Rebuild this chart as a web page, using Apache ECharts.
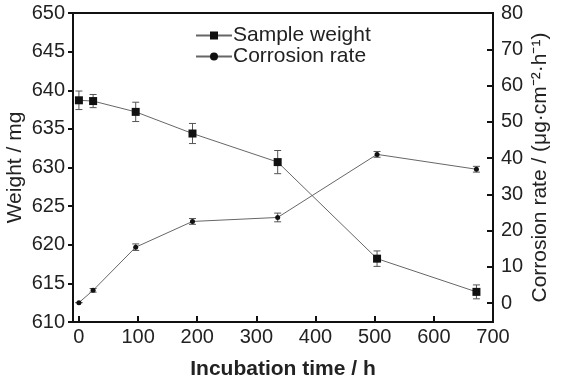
<!DOCTYPE html>
<html><head><meta charset="utf-8">
<script src="https://cdn.jsdelivr.net/npm/echarts@6/dist/echarts.min.js"></script>
<style>html,body{margin:0;padding:0;background:#fff}#c{width:563px;height:381px}</style>
</head><body><div id="c"></div>
<script>
const times = [0, 24, 96, 192, 336, 504, 672];
const weight = [638.7, 638.6, 637.2, 634.4, 630.7, 618.2, 613.9];
const weightErr = [1.2, 0.85, 1.25, 1.3, 1.5, 1.0, 0.9];
const rate = [0.1, 3.5, 15.4, 22.5, 23.6, 41.0, 36.9];
const rateErr = [0, 0.5, 0.9, 0.8, 1.2, 0.8, 0.8];
const xTicks = [0, 100, 200, 300, 400, 500, 600, 700];
const rateTicks = [0, 10, 20, 30, 40, 50, 60, 70, 80];

const FONT = 'Liberation Sans, Arial, sans-serif';
const chart = echarts.init(document.getElementById('c'), null, {renderer: 'canvas'});

function errItem(params, api) {
  const x = api.value(0), y = api.value(1), e = api.value(2);
  const top = api.coord([x, y + e]);
  const bot = api.coord([x, y - e]);
  const w = 3.5;
  const st = {stroke: '#555', lineWidth: 1, fill: null};
  return {type: 'group', children: [
    {type: 'line', shape: {x1: top[0], y1: top[1], x2: bot[0], y2: bot[1]}, style: st},
    {type: 'line', shape: {x1: top[0]-w, y1: top[1], x2: top[0]+w, y2: top[1]}, style: st},
    {type: 'line', shape: {x1: bot[0]-w, y1: bot[1], x2: bot[0]+w, y2: bot[1]}, style: st}
  ]};
}

chart.setOption({
  animation: false,
  textStyle: {fontFamily: FONT},
  grid: {left: 73, right: 70, top: 13, bottom: 59, containLabel: false, outerBoundsMode: 'none',
         show: true, borderColor: '#111', borderWidth: 2},
  legend: {
    left: 190, top: 20, orient: 'vertical', itemGap: 0,
    itemWidth: 36, itemHeight: 10,
    textStyle: {fontSize: 21, lineHeight: 20, color: '#222', fontFamily: FONT, padding: [0,0,0,-4]},
    data: ['Sample weight', 'Corrosion rate']
  },
  xAxis: {
    type: 'value', min: -10, max: 700,
    name: 'Incubation time / h', nameLocation: 'middle', nameGap: 37, nameMoveOverlap: false,
    nameTextStyle: {fontSize: 21, fontWeight: 'bold', color: '#222', fontFamily: FONT},
    axisLine: {onZero: false, lineStyle: {color: '#111', width: 2}},
    axisTick: {inside: true, length: 6, lineStyle: {color: '#111', width: 2}, customValues: xTicks},
    axisLabel: {fontSize: 20, color: '#222', margin: 5, customValues: xTicks, fontFamily: FONT},
    splitLine: {show: false}
  },
  yAxis: [{
    type: 'value', min: 610, max: 650, interval: 5, position: 'left',
    name: 'Weight / mg', nameLocation: 'middle', nameGap: 47, nameRotate: 90, nameMoveOverlap: false,
    nameTextStyle: {fontSize: 21, color: '#222', fontFamily: FONT},
    axisLine: {show: true, onZero: false, lineStyle: {color: '#111', width: 2}},
    axisTick: {show: true, inside: false, length: 5, lineStyle: {color: '#111', width: 2}},
    axisLabel: {fontSize: 20, color: '#222', margin: 8, fontFamily: FONT},
    splitLine: {show: false}
  }, {
    type: 'value', min: -5.24, max: 80, position: 'right',
    name: 'Corrosion rate / (μg·cm⁻²·h⁻¹)', nameLocation: 'middle', nameGap: 37, nameRotate: 90, nameMoveOverlap: false,
    nameTextStyle: {fontSize: 21, color: '#222', fontFamily: FONT},
    axisLine: {show: true, onZero: false, lineStyle: {color: '#111', width: 2}},
    axisTick: {show: true, inside: true, length: 6, lineStyle: {color: '#111', width: 2}, customValues: rateTicks},
    axisLabel: {fontSize: 20, color: '#222', margin: 8, customValues: rateTicks, fontFamily: FONT},
    splitLine: {show: false}
  }],
  series: [{
    name: 'Sample weight', type: 'line', yAxisIndex: 0,
    data: times.map((t, i) => [t, weight[i]]),
    symbol: 'rect', symbolSize: 8,
    itemStyle: {color: '#111'},
    lineStyle: {color: '#666', width: 1}, z: 3
  }, {
    name: 'Corrosion rate', type: 'line', yAxisIndex: 1,
    data: times.map((t, i) => [t, rate[i]]),
    symbol: 'circle', symbolSize: 5,
    itemStyle: {color: '#111'},
    lineStyle: {color: '#666', width: 1}, z: 3
  }, {
    type: 'custom', yAxisIndex: 0, renderItem: errItem,
    data: times.map((t, i) => [t, weight[i], weightErr[i]]), z: 2, silent: true
  }, {
    type: 'custom', yAxisIndex: 1, renderItem: errItem,
    data: times.map((t, i) => [t, rate[i], rateErr[i]]), z: 2, silent: true
  }]
});
</script></body></html>
